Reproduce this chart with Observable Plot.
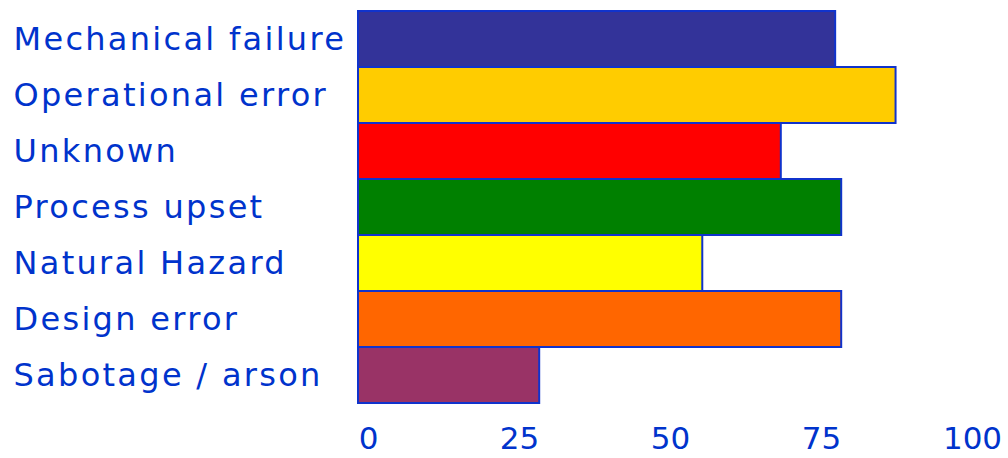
<!DOCTYPE html>
<html>
<head>
<meta charset="utf-8">
<script src="https://cdn.jsdelivr.net/npm/d3@7"></script>
<script src="https://cdn.jsdelivr.net/npm/@observablehq/plot@0.6"></script>
<style>
  html, body { margin: 0; padding: 0; background: #fff; }
  g[aria-label="y-axis tick label"] text { letter-spacing: 2.3px; }
</style>
</head>
<body>
<div id="chart"></div>
<script>
const categories = ["Mechanical failure", "Operational error", "Unknown", "Process upset", "Natural Hazard", "Design error", "Sabotage / arson"];
const values = [79, 89, 70, 80, 57, 80, 30];
const colors = ["#333399", "#FFCC00", "#FF0000", "#008000", "#FFFF00", "#FF6600", "#993366"];
const xTicks = [0, 25, 50, 75, 100];

const data = categories.map((c, i) => ({category: c, value: values[i], color: colors[i]}));
const textColor = "#0033CC";

const chart = Plot.plot({
  width: 1008,
  height: 458,
  marginLeft: 358,
  marginRight: 46,
  marginTop: 8,
  marginBottom: 53,
  style: {fontFamily: "DejaVu Sans, Verdana, sans-serif", background: "#fff", overflow: "visible"},
  x: {domain: [0, 100], ticks: xTicks},
  y: {domain: categories, padding: 0},
  marks: [
    Plot.barX(data, {
      x: "value", y: "category", fill: d => d.color,
      stroke: "#1033CC", strokeWidth: 2, inset: 0
    }),
    Plot.axisX({
      ticks: xTicks, tickSize: 0, tickPadding: 21, fontSize: 31,
      fill: textColor, dx: 10, label: null
    }),
    Plot.axisY({
      tickSize: 0, tickPadding: 0, fontSize: 32, fill: textColor,
      textAnchor: "start", dx: -345, dy: 0, label: null
    })
  ]
});
document.getElementById("chart").appendChild(chart);
</script>
</body>
</html>
